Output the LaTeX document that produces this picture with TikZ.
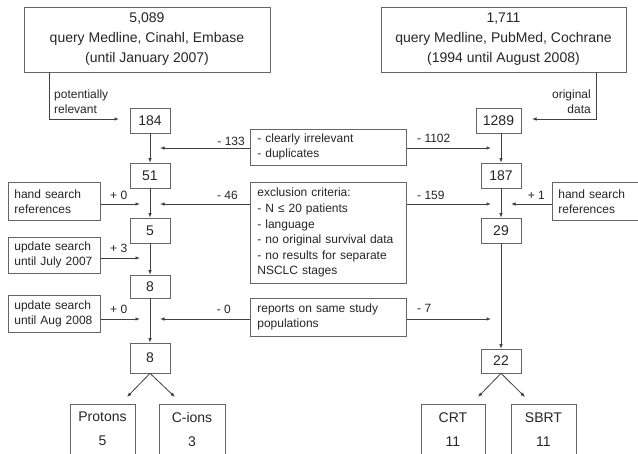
\documentclass[tikz,border=0pt]{standalone}
\usepackage{fontspec}
\setmainfont{Liberation Sans}
\usetikzlibrary{arrows.meta}

\begin{document}
\begin{tikzpicture}[x=1pt, y=-1pt,
every node/.style={text=black!85},
box/.style={draw=black!60, line width=0.7pt},
srcbox/.style={box, align=center, minimum width=246pt, minimum height=65pt, inner sep=2pt, font=\fontsize{14}{20}\selectfont},
numbox/.style={box, minimum width=40pt, minimum height=25pt, inner sep=1pt, font=\fontsize{14}{17}\selectfont},
sidebox/.style={box, anchor=north west, align=left, text width=80pt, inner xsep=6pt, inner ysep=3pt, minimum height=38pt, font=\fontsize{12}{15}\selectfont},
midbox/.style={sidebox, text width=142pt, inner xsep=7pt},
catbox/.style={box, anchor=north, align=center, minimum width=65pt, inner xsep=2pt, inner ysep=8pt, text depth=12pt, font=\fontsize{14}{24}\selectfont},
lbl/.style={inner sep=0pt, font=\fontsize{12}{15}\selectfont},
arr/.style={draw=black!75, line width=0.8pt, -{Latex[length=4.5pt,width=3.5pt]}},
]
\path[fill=white] (0,0) rectangle (638,454);
\useasboundingbox (0,0) rectangle (638,454);

% searches
\node[srcbox] (srcL) at (147,39.5) {5,089\\query Medline, Cinahl, Embase\\(until January 2007)};
\node[srcbox, minimum width=245pt] (srcR) at (503.5,39.5) {1,711\\query Medline, PubMed, Cochrane\\(1994 until August 2008)};

% left column
\node[numbox] (l184) at (150,120.5) {184};
\node[numbox] (l51) at (150,175.5) {51};
\node[numbox] (l5) at (150,230.5) {5};
\node[numbox, minimum height=23pt] (l8) at (150,286.5) {8};
\node[numbox, minimum height=30pt] (l8b) at (150,358) {8};

% right column
\node[numbox, minimum width=45pt] (r1289) at (498.5,120.5) {1289};
\node[numbox] (r187) at (501,175.5) {187};
\node[numbox] (r29) at (501,230.5) {29};
\node[numbox, minimum height=24pt] (r22) at (501,361) {22};

% additions and exclusions
\node[sidebox] (handL) at (8,182) {hand search\\references};
\node[sidebox, minimum height=36pt] (julL) at (8,237) {update search\\until July 2007};
\node[sidebox, minimum height=37pt] (augL) at (8,295) {update search\\until Aug 2008};
\node[sidebox, text width=75pt] (handR) at (552,182) {hand search\\references};
\node[midbox, minimum height=36pt] (irrel) at (250,129) {- clearly irrelevant\\- duplicates};
\node[midbox, minimum height=101pt, font=\fontsize{12}{15.6}\selectfont] (excl) at (250,182)
  {exclusion criteria:\\- N ≤ 20 patients\\- language\\- no original survival data\\- no results for separate\\NSCLC stages};
\node[midbox] (same) at (250,298) {reports on same study\\populations};

% techniques
\node[catbox] (prot) at (102.5,404) {Protons\\5};
\node[catbox, minimum width=66pt] (cion) at (192,404) {C-ions\\3};
\node[catbox, minimum width=64pt] (crt) at (453,404) {CRT\\11};
\node[catbox] (sbrt) at (543.5,404) {SBRT\\11};

% arrow ends
\coordinate (kL) at (49,119);
\coordinate (tL) at (119,119);
\coordinate (kR) at (596,119);
\coordinate (tR) at (532,119);
\coordinate (irrL) at (160,148);
\coordinate (irrR) at (491,148);
\coordinate (hsL) at (140,204);
\coordinate (exL) at (160,204);
\coordinate (exR) at (491,204);
\coordinate (hsR) at (511,204);
\coordinate (jul) at (140,258);
\coordinate (aug) at (140,319);
\coordinate (saL) at (160,319);
\coordinate (saR) at (491,319);
\coordinate (tProt) at (127,397);
\coordinate (tCion) at (175,397);
\coordinate (tCrt) at (478,397);
\coordinate (tSbrt) at (525,397);

\draw[arr] (srcL.south -| kL) -- (kL) -- (tL);
\draw[arr] (srcR.south -| kR) -- (kR) -- (tR);
\node[lbl, align=left, anchor=south west] (potrel) at (54,114) {potentially\\relevant};
\node[lbl, align=right, anchor=south east] (origdat) at (591,114) {original\\data};

\draw[arr] (l184) -- (l51);
\draw[arr] (l51) -- (l5);
\draw[arr] (l5) -- (l8);
\draw[arr] (l8) -- (l8b);
\draw[arr] (r1289.south -| r187) -- (r187);
\draw[arr] (r187) -- (r29);
\draw[arr] (r29) -- (r22);

\draw[arr] (irrel.west |- irrL) -- (irrL);
\draw[arr] (irrel.east |- irrR) -- (irrR);
\draw[arr] (handL.east |- hsL) -- (hsL);
\draw[arr] (excl.west |- exL) -- (exL);
\draw[arr] (excl.east |- exR) -- (exR);
\draw[arr] (handR.west |- hsR) -- (hsR);
\draw[arr] (julL.east |- jul) -- (jul);
\draw[arr] (augL.east |- aug) -- (aug);
\draw[arr] (same.west |- saL) -- (saL);
\draw[arr] (same.east |- saR) -- (saR);

\node[lbl, anchor=base east] (m133) at (245,146) {- 133};
\node[lbl, anchor=base west] (m1102) at (417,143) {- 1102};
\node[lbl, anchor=base west] (p0a) at (110,200) {+ 0};
\node[lbl, anchor=base east] (m46) at (238,200) {- 46};
\node[lbl, anchor=base west] (m159) at (417,200) {- 159};
\node[lbl, anchor=base east] (p1) at (545,200) {+ 1};
\node[lbl, anchor=base west] (p3) at (110,253) {+ 3};
\node[lbl, anchor=base west] (p0b) at (110,314) {+ 0};
\node[lbl, anchor=base east] (m0) at (231,314) {- 0};
\node[lbl, anchor=base west] (m7) at (417,313) {- 7};

\draw[arr] (l8b.south) -- (tProt);
\draw[arr] (l8b.south) -- (tCion);
\draw[arr] (r22.south) -- (tCrt);
\draw[arr] (r22.south) -- (tSbrt);
\end{tikzpicture}
\end{document}
